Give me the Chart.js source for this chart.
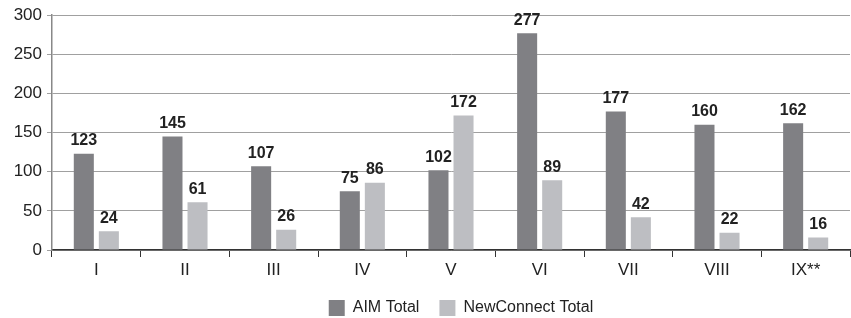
<!DOCTYPE html>
<html lang="en">
<head>
  <meta charset="UTF-8">
  <title>AIM vs NewConnect</title>
  <script src="https://cdn.jsdelivr.net/npm/chart.js"></script>
  <style>
    html, body { margin: 0; padding: 0; background: #fff; }
    #wrap { width: 851px; height: 318px; }
  </style>
</head>
<body>
  <div id="wrap"><canvas id="chart"></canvas></div>
  <script>
    // Data
    const categories = ['I', 'II', 'III', 'IV', 'V', 'VI', 'VII', 'VIII', 'IX**'];
    const aimTotal = [123, 145, 107, 75, 102, 277, 177, 160, 162];
    const newConnectTotal = [24, 61, 26, 86, 172, 89, 42, 22, 16];
    const yTicks = [0, 50, 100, 150, 200, 250, 300];

    const FONT = 'Liberation Sans, Arial, Helvetica, sans-serif';

    // bold value above each bar
    const valueLabels = {
      id: 'valueLabels',
      afterDatasetsDraw(chart) {
        const ctx = chart.ctx;
        ctx.save();
        ctx.font = 'bold 16px ' + FONT;
        ctx.fillStyle = '#222';
        ctx.textAlign = 'center';
        ctx.textBaseline = 'bottom';
        chart.data.datasets.forEach((ds, i) => {
          chart.getDatasetMeta(i).data.forEach((bar, j) => {
            ctx.fillText(ds.data[j], bar.x, bar.y - 5);
          });
        });
        ctx.restore();
      }
    };

    // legend in the reference sits centred under the plot, not the canvas
    const legendShift = {
      id: 'legendShift',
      afterLayout(chart) {
        chart.legend.left += 36;
        chart.legend.right += 36;
      }
    };

    new Chart(document.getElementById('chart'), {
      type: 'bar',
      data: {
        labels: categories,
        datasets: [
          { label: 'AIM Total', data: aimTotal, backgroundColor: '#808084',
            categoryPercentage: 0.565, barPercentage: 0.8 },
          { label: 'NewConnect Total', data: newConnectTotal, backgroundColor: '#bdbec2',
            categoryPercentage: 0.565, barPercentage: 0.8 }
        ]
      },
      options: {
        responsive: true,
        maintainAspectRatio: false,
        animation: false,
        layout: { padding: { top: 8, right: 1, left: 0, bottom: -8 } },
        plugins: {
          tooltip: { enabled: false },
          legend: {
            position: 'bottom',
            labels: {
              boxWidth: 16, boxHeight: 16, padding: 20,
              color: '#222', font: { family: FONT, size: 16 }
            }
          }
        },
        scales: {
          x: {
            afterFit(axis) { axis.height = 30; },
            grid: { offset: true, drawOnChartArea: false, tickLength: 7, color: '#333' },
            border: { color: '#333', width: 1.5 },
            ticks: { color: '#222', font: { family: FONT, size: 17 }, padding: 3 }
          },
          y: {
            min: 0, max: 300,
            afterBuildTicks(axis) { axis.ticks = yTicks.map(v => ({ value: v })); },
            afterFit(axis) { axis.width = 52; },
            grid: { color: '#a0a0a0', tickLength: 5 },
            border: { color: '#888', width: 1.5 },
            ticks: { color: '#222', font: { family: FONT, size: 17 }, padding: 5 }
          }
        }
      },
      plugins: [valueLabels, legendShift]
    });
  </script>
</body>
</html>
